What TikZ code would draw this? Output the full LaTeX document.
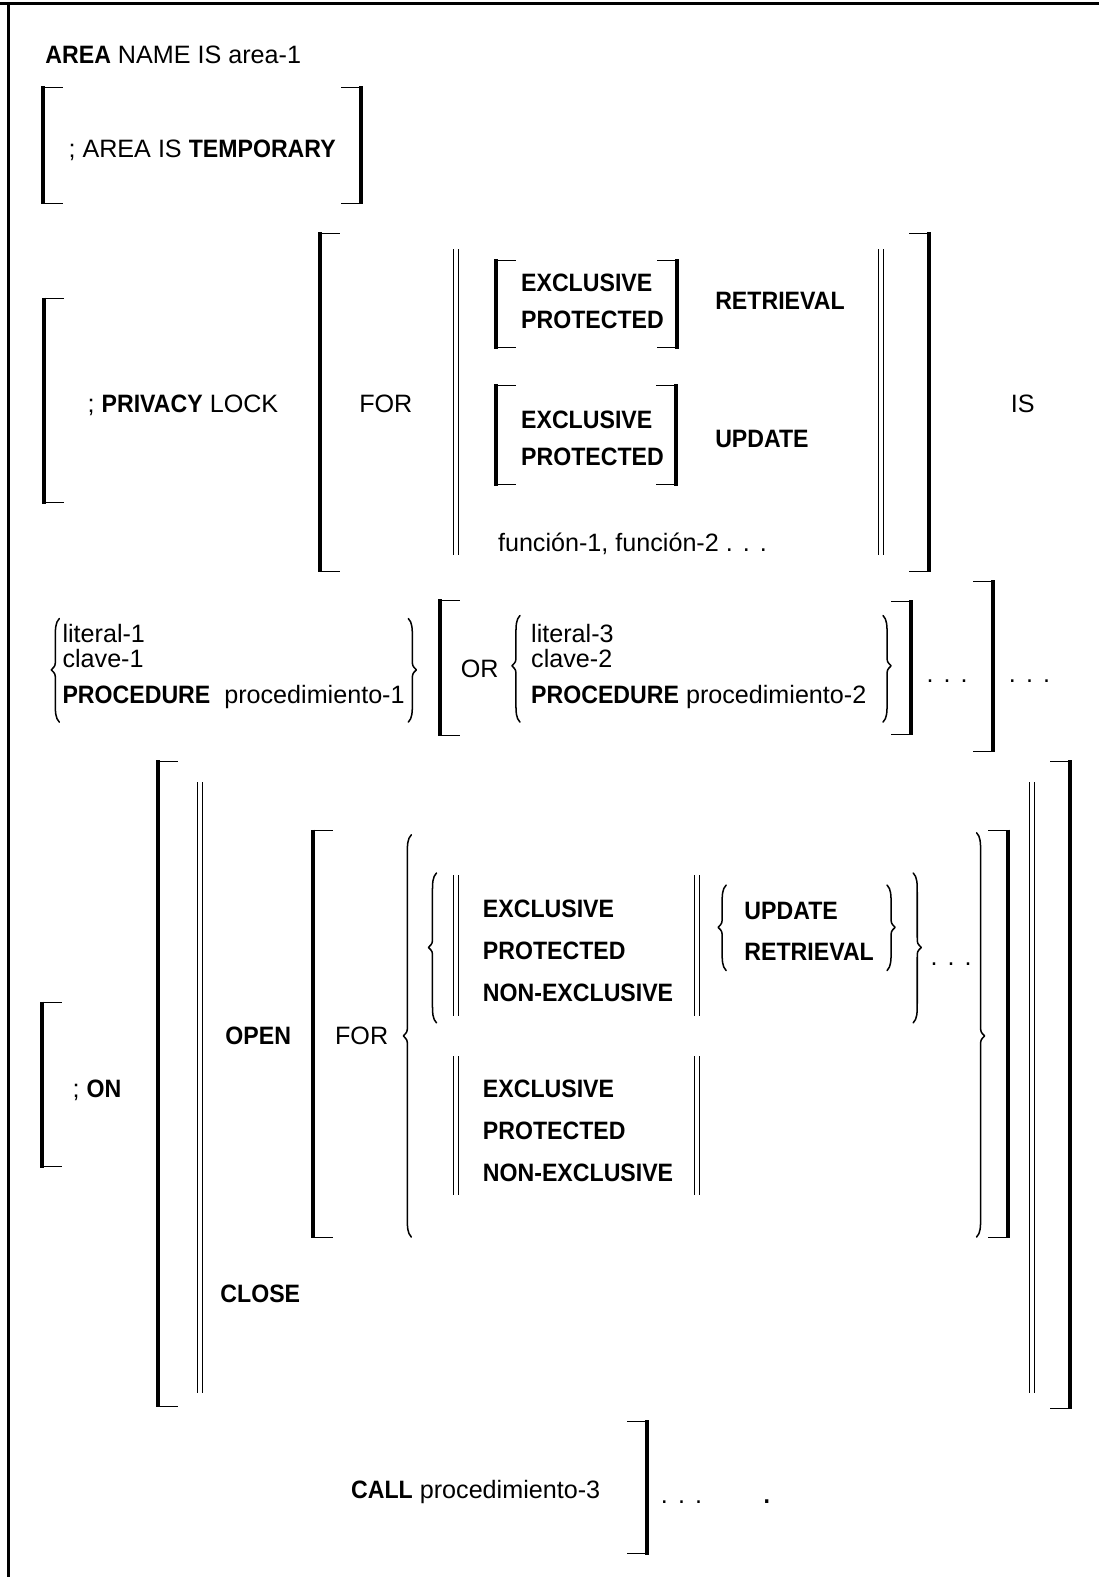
\documentclass[tikz,border=0pt]{standalone}
\usepackage{fontspec}
\setmainfont{Liberation Sans}[BoldFeatures={FakeStretch=0.92}]
\newcommand\LBrk[3]{\draw[bar] (#1,#2-1) -- (#1,#3+1); \draw[tick] (#1,#2) -- ++(20,0); \draw[tick] (#1,#3) -- ++(20,0);}
\newcommand\RBrk[3]{\draw[bar] (#1,#2-1) -- (#1,#3+1); \draw[tick] (#1,#2) -- ++(-20,0); \draw[tick] (#1,#3) -- ++(-20,0);}
\newcommand\DBar[3]{\draw[thinbar] (#1,#2) -- (#1,#3); \draw[thinbar] (#1+5,#2) -- (#1+5,#3);}
% left brace: x, ytop, ybot, ymid
\newcommand\LBrc[4]{\draw[brc] (#1+4,#2) .. controls (#1,#2+4) and (#1,#2+10) .. (#1,#2+20) -- (#1,#4-10) .. controls (#1,#4-4) .. (#1-4,#4) .. controls (#1,#4+4) .. (#1,#4+10) -- (#1,#3-20) .. controls (#1,#3-10) and (#1,#3-4) .. (#1+4,#3);}
\newcommand\RBrc[4]{\draw[brc] (#1-4,#2) .. controls (#1,#2+4) and (#1,#2+10) .. (#1,#2+20) -- (#1,#4-10) .. controls (#1,#4-4) .. (#1+4,#4) .. controls (#1,#4+4) .. (#1,#4+10) -- (#1,#3-20) .. controls (#1,#3-10) and (#1,#3-4) .. (#1-4,#3);}
\newcommand\Dots{.\hspace{10pt}.\hspace{10pt}.}
\begin{document}
\begin{tikzpicture}[x=1pt,y=-1pt,
  txt/.style={anchor=base west, inner sep=0pt, font=\fontsize{25}{29}\selectfont},
  bar/.style={line width=4pt},
  tick/.style={line width=1pt},
  thinbar/.style={line width=0.9pt},
  brc/.style={line width=1.5pt, line join=round, line cap=round},
  frame/.style={line width=3pt}]
\useasboundingbox (0,0) rectangle (1093,1568);
\fill[white] (0,0) rectangle (1093,1568);
% frame
\draw[frame] (0,3) -- (1093,3);
\draw[frame] (8,3) -- (8,1568);

% AREA NAME
\node[txt] (t1) at (45,63) {\textbf{AREA} NAME IS area-1};
\LBrk{43}{87}{202}
\RBrk{359}{87}{202}
\node[txt] (t2) at (68,157) {; AREA IS \textbf{TEMPORARY}};

% PRIVACY
\LBrk{44}{297}{500}
\node[txt] (t3) at (87,410) {; \textbf{PRIVACY} LOCK};
\LBrk{318}{232}{568}
\node[txt] (t4) at (357,410) {FOR};
\DBar{451}{248}{552}
\LBrk{493}{259}{346}
\RBrk{673}{259}{346}
\node[txt] (t5) at (518,290) {\textbf{EXCLUSIVE}};
\node[txt] (t6) at (518,327) {\textbf{PROTECTED}};
\node[txt] (t7) at (711,308) {\textbf{RETRIEVAL}};
\LBrk{493}{383}{482}
\RBrk{672}{383}{482}
\node[txt] (t8) at (518,426) {\textbf{EXCLUSIVE}};
\node[txt] (t9) at (518,463) {\textbf{PROTECTED}};
\node[txt] (t10) at (711,445) {\textbf{UPDATE}};
\node[txt] (t11) at (495,548) {función-1, función-2 \Dots};
\DBar{873}{248}{552}
\RBrk{924}{232}{568}
\node[txt] (t12) at (1005,410) {IS};

% literal row
\LBrc{55}{615}{718}{666}
\node[txt] (t13) at (62,639) {literal-1};
\node[txt] (t14) at (62,664) {clave-1};
\node[txt] (t15) at (62,699) {\textbf{PROCEDURE}\ \ procedimiento-1};
\RBrc{410}{615}{718}{666}
\LBrk{437}{597}{731}
\node[txt] (t16) at (458,674) {OR};
\LBrc{513}{612}{718}{662}
\node[txt] (t17) at (528,639) {literal-3};
\node[txt] (t18) at (528,664) {clave-2};
\node[txt] (t19) at (528,699) {\textbf{PROCEDURE} procedimiento-2};
\RBrc{882}{612}{718}{662}
\RBrk{906}{598}{730}
\node[txt] (t20) at (921,679) {\Dots};
\RBrk{987}{578}{747}
\node[txt] (t21) at (1003,679) {\Dots};

% ON section
\LBrk{42}{997}{1160}
\node[txt] (t22) at (72,1091) {;\ \textbf{ON}};
\LBrk{157}{757}{1398}
\DBar{196}{778}{1385}
\node[txt] (t23) at (224,1039) {\textbf{OPEN}};
\node[txt] (t24) at (219,1295) {\textbf{CLOSE}};
\LBrk{311}{826}{1230}
\node[txt] (t25) at (333,1039) {FOR};
\LBrc{405}{830}{1230}{1030}
\LBrc{430}{868}{1017}{942}
\DBar{451}{870}{1010}
\node[txt] (t26) at (480,912) {\textbf{EXCLUSIVE}};
\node[txt] (t27) at (480,954) {\textbf{PROTECTED}};
\node[txt] (t28) at (480,996) {\textbf{NON-EXCLUSIVE}};
\DBar{690}{870}{1010}
\LBrc{718}{880}{965}{922}
\node[txt] (t29) at (740,914) {\textbf{UPDATE}};
\node[txt] (t30) at (740,955) {\textbf{RETRIEVAL}};
\RBrc{886}{880}{965}{922}
\RBrc{912}{868}{1017}{942}
\node[txt] (t31) at (925,960) {\Dots};
\DBar{451}{1050}{1188}
\node[txt] (t32) at (480,1091) {\textbf{EXCLUSIVE}};
\node[txt] (t33) at (480,1133) {\textbf{PROTECTED}};
\node[txt] (t34) at (480,1175) {\textbf{NON-EXCLUSIVE}};
\DBar{690}{1050}{1188}
\RBrc{975}{828}{1230}{1030}
\RBrk{1002}{826}{1230}
\DBar{1024}{778}{1385}
\RBrk{1064}{757}{1400}

% CALL
\node[txt] (t35) at (349,1490) {\textbf{CALL} procedimiento-3};
\RBrk{643}{1413}{1545}
\node[txt] (t36) at (657,1495) {\Dots};
\node[txt] (t37) at (759,1495) {\textbf{.}};
\end{tikzpicture}
\end{document}
